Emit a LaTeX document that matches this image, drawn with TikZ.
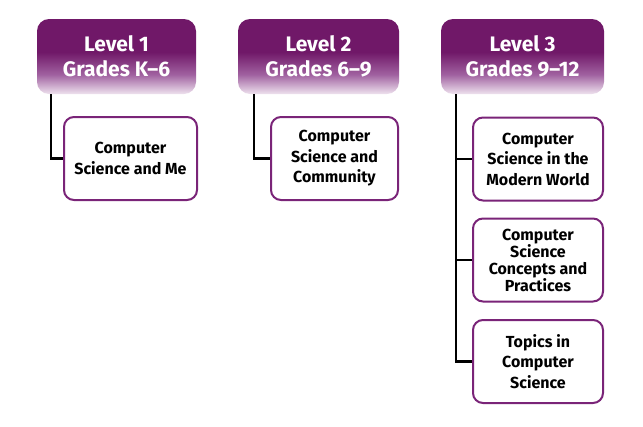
\documentclass[tikz,border=0pt]{standalone}
\usepackage{fontspec}
\setmainfont{Fira Sans}
\definecolor{hdrdark}{HTML}{701868}
\definecolor{hdrmid}{HTML}{A061A0}
\definecolor{hdrlight}{HTML}{EEE2EE}
\definecolor{boxline}{HTML}{7A2478}
\pgfdeclareverticalshading{hdrshade}{100bp}{color(0bp)=(hdrlight); color(25bp)=(hdrlight); color(38bp)=(hdrmid); color(53bp)=(hdrdark); color(100bp)=(hdrdark)}
\tikzset{
  header/.style={rounded corners=12pt, shading=hdrshade, minimum height=75pt, align=center, text=white, font=\bfseries\fontsize{21}{25}\selectfont, inner sep=0pt},
  child/.style={draw=boxline, line width=2pt, fill=white, rounded corners=10pt, minimum width=132pt, minimum height=83pt, align=center, font=\bfseries\fontsize{16}{20.5}\selectfont, inner sep=0pt},
  tight/.style={font=\bfseries\fontsize{16}{17}\selectfont},
  conn/.style={line width=2.6pt, black}
}
\begin{document}
\begin{tikzpicture}[x=1pt,y=-1pt]
\useasboundingbox (0,0) rectangle (643,426);
\node[header, minimum width=159pt] (h1) at (116.5,56.5) {Level 1\\Grades K–6};
\node[header, minimum width=161pt] (h2) at (318.5,56.5) {Level 2\\Grades 6–9};
\node[header, minimum width=163pt] (h3) at (522.5,56.5) {Level 3\\Grades 9–12};
\node[child, minimum width=133pt] (c1) at (130.5,158.5) {Computer\\Science and Me};
\node[child, minimum width=127pt] (c2) at (334.5,158.5) {Computer\\Science and\\Community};
\node[child, minimum width=130pt] (c31) at (538,159) {Computer\\Science in the\\Modern World};
\node[child, tight, minimum width=130pt] (c32) at (538,260) {Computer\\Science\\Concepts and\\Practices};
\node[child, minimum width=130pt] (c33) at (538,361.5) {Topics in\\Computer\\Science};
\coordinate (t1) at (51,94);
\coordinate (t2) at (254,94);
\coordinate (t3) at (456,94);
\draw[conn] (t1) |- (c1.west);
\draw[conn] (t2) |- (c2.west);
\draw[conn] (t3) |- (c33.west);
\draw[conn] (t3 |- c31.west) -- (c31.west);
\draw[conn] (t3 |- c32.west) -- (c32.west);
\end{tikzpicture}
\end{document}
